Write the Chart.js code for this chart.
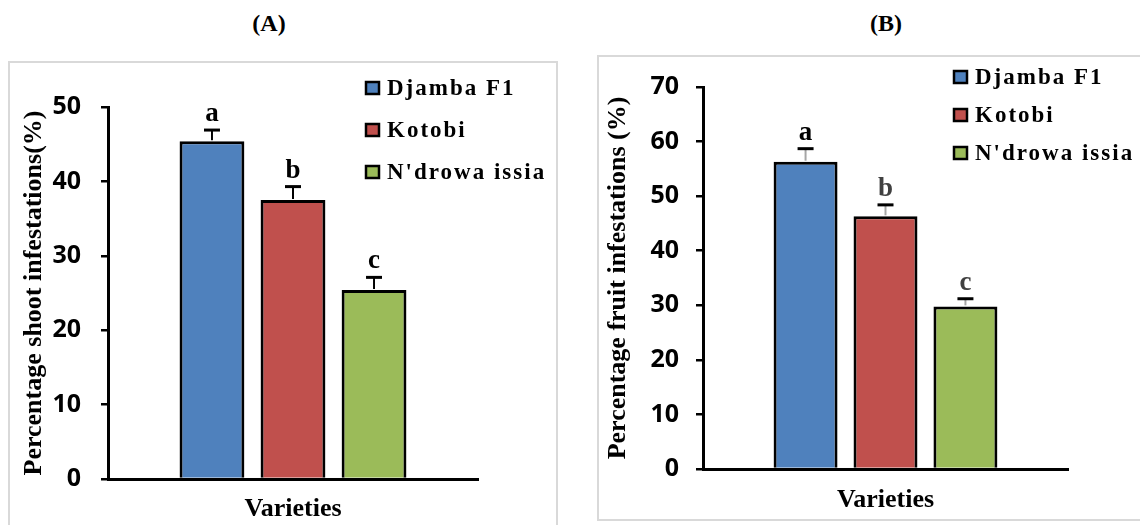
<!DOCTYPE html>
<html>
<head>
<meta charset="utf-8">
<script src="https://cdn.jsdelivr.net/npm/chart.js@4"></script>
<style>
  body { margin: 0; background: #fff; width: 1140px; height: 525px; overflow: hidden; position: relative; }
  .frame { position: absolute; border: 2px solid #d9d9d9; box-sizing: border-box; }
  .panel { position: absolute; }
  .ptitle { position: absolute; font: bold 24px "Liberation Serif", serif; transform: translateX(-50%); }
</style>
</head>
<body>
<div class="ptitle" style="left:269px; top:10px;">(A)</div>
<div class="ptitle" style="left:886px; top:10px;">(B)</div>
<div class="frame" style="left:8px; top:61px; width:550px; height:480px;"></div>
<div class="frame" style="left:597px; top:55px; width:560px; height:466px;"></div>
<div class="panel" style="left:8px; top:60px; width:550px; height:465px;"><canvas id="chartA"></canvas></div>
<div class="panel" style="left:597px; top:55px; width:543px; height:465px;"><canvas id="chartB"></canvas></div>
<script>
const varieties = ['Djamba F1', 'Kotobi', "N'drowa issia"];
const letters = ['a', 'b', 'c'];

// (A) shoot infestations
const shootMeans = [45.4, 37.5, 25.4];
const shootErr = [1.5, 1.8, 1.7];

// (B) fruit infestations
const fruitMeans = [56.3, 46.3, 29.8];
const fruitErr = [2.4, 2.1, 1.4];

const colors = ['#4F81BD', '#C0504D', '#9BBB59'];

// error bars + significance letters
const extrasPlugin = {
  id: 'extras',
  afterDatasetsDraw(chart, args, o) {
    const ctx = chart.ctx;
    const y = chart.scales.y;
    ctx.save();
    chart.data.datasets.forEach((ds, i) => {
      const bar = chart.getDatasetMeta(i).data[0];
      const top = y.getPixelForValue(ds.data[0] + o.errors[i]);
      const base = y.getPixelForValue(ds.data[0]);
      ctx.strokeStyle = o.stemColor;
      ctx.lineWidth = 2;
      ctx.beginPath();
      ctx.moveTo(bar.x, base - 1);
      ctx.lineTo(bar.x, top);
      ctx.stroke();
      ctx.strokeStyle = '#000';
      ctx.lineWidth = 3;
      ctx.beginPath();
      ctx.moveTo(bar.x - 8, top);
      ctx.lineTo(bar.x + 8, top);
      ctx.stroke();
      ctx.fillStyle = o.letterColors[i];
      ctx.font = 'bold 27px "Liberation Serif", serif';
      ctx.textAlign = 'center';
      ctx.textBaseline = 'alphabetic';
      ctx.fillText(letters[i], bar.x, top - 9);
    });
    ctx.restore();
  }
};

// legend drawn at a fixed spot in the upper right
const legendPlugin = {
  id: 'boxLegend',
  afterDraw(chart, args, o) {
    const ctx = chart.ctx;
    ctx.save();
    chart.data.datasets.forEach((ds, i) => {
      const cy = o.y + i * o.gap;
      ctx.fillStyle = ds.backgroundColor;
      ctx.fillRect(o.x, cy - 6, 13, 12);
      ctx.strokeStyle = '#000';
      ctx.lineWidth = 2.5;
      ctx.strokeRect(o.x, cy - 6, 13, 12);
      ctx.fillStyle = '#000';
      ctx.font = 'bold 23px "Liberation Serif", serif';
      ctx.letterSpacing = '2px';
      ctx.textAlign = 'left';
      ctx.textBaseline = 'middle';
      ctx.fillText(ds.label, o.x + 21, cy + 1);
    });
    ctx.restore();
  }
};

function makeChart(id, means, errs, cfg) {
  return new Chart(document.getElementById(id), {
    type: 'bar',
    data: {
      labels: [''],
      datasets: varieties.map((v, i) => ({
        label: v,
        data: [means[i]],
        backgroundColor: colors[i],
        borderColor: '#000',
        borderWidth: 3,
        barPercentage: 0.8,
        categoryPercentage: 0.657
      }))
    },
    options: {
      responsive: true,
      maintainAspectRatio: false,
      animation: false,
      layout: { padding: { top: cfg.padTop, right: cfg.padRight, left: 0, bottom: 0 } },
      plugins: {
        legend: { display: false },
        tooltip: { enabled: false },
        extras: { errors: errs, stemColor: cfg.stemColor, letterColors: cfg.letterColors },
        boxLegend: { x: cfg.legX, y: cfg.legY, gap: cfg.legGap }
      },
      scales: {
        x: {
          grid: { display: false },
          border: { color: '#000', width: 3 },
          ticks: { display: false },
          title: {
            display: true, text: 'Varieties', color: '#000',
            font: { family: '"Liberation Serif", serif', size: 26, weight: 'bold' },
            padding: { top: 0, bottom: cfg.xTitlePad }
          },
          afterFit: s => { s.height = cfg.xHeight; }
        },
        y: {
          min: 0,
          max: cfg.yMax,
          ticks: {
            stepSize: 10, color: '#000', padding: cfg.tickPad,
            font: { family: '"Open Sans", sans-serif', size: 25, weight: 'bold' }
          },
          grid: { drawOnChartArea: false, drawTicks: true, tickLength: 7, color: '#000', lineWidth: 2.5 },
          border: { color: '#000', width: 3 },
          title: {
            display: true, text: cfg.yTitle, color: '#000',
            font: { family: '"Liberation Serif", serif', size: 26, weight: 'bold' },
            padding: { top: cfg.yTitlePad, bottom: 0 }
          },
          afterFit: s => { s.width = cfg.yWidth; }
        }
      }
    },
    plugins: [extrasPlugin, legendPlugin]
  });
}

makeChart('chartA', shootMeans, shootErr, {
  yMax: 50, yTitle: 'Percentage shoot infestations(%)',
  padTop: 47, padRight: 80, yWidth: 100, xHeight: 46,
  yTitlePad: 11, xTitlePad: 0, tickPad: 20,
  stemColor: '#000', letterColors: ['#000', '#000', '#000'],
  legX: 358, legY: 28, legGap: 42
});

makeChart('chartB', fruitMeans, fruitErr, {
  yMax: 70, yTitle: 'Percentage fruit infestations (%)',
  padTop: 17, padRight: 72, yWidth: 106, xHeight: 51,
  yTitlePad: 6, xTitlePad: 4, tickPad: 17,
  stemColor: '#a6a6a6', letterColors: ['#000', '#404040', '#404040'],
  legX: 357, legY: 22, legGap: 38
});
</script>
</body>
</html>
